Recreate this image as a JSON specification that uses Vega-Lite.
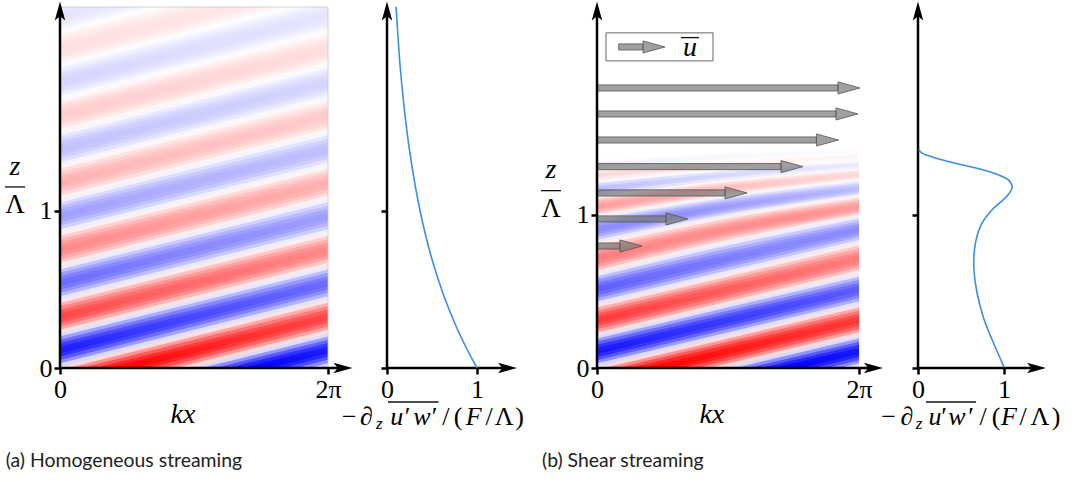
{"$schema":"https://vega.github.io/schema/vega-lite/v6.json","background":"white","padding":{"left":60,"top":7,"right":1019,"bottom":475},"autosize":{"type":"none"},"bounds":"flush","spacing":59,
"config":{"view":{"stroke":null},"axis":{"domain":false,"grid":false,"title":null,"tickColor":"#000","tickWidth":2.5,"tickSize":6,"labelFont":"Liberation Serif","labelFontSize":26,"labelColor":"#000","labelPadding":2,"labelOverlap":false,"labelFlush":false,"format":"d"},"text":{"baseline":"alphabetic","align":"center","color":"#000"}},
"datasets":{
"sa":[{"x":-0.314,"x2":6.597,"y":2.322,"y2":2.791,"v":-0.156},{"x":-0.314,"x2":6.597,"y":2.3,"y2":2.77,"v":-0.454},{"x":-0.314,"x2":6.597,"y":2.279,"y2":2.749,"v":-0.707},{"x":-0.314,"x2":6.597,"y":2.258,"y2":2.728,"v":-0.891},{"x":-0.314,"x2":6.597,"y":2.236,"y2":2.706,"v":-0.988},{"x":-0.314,"x2":6.597,"y":2.215,"y2":2.685,"v":-0.988},{"x":-0.314,"x2":6.597,"y":2.194,"y2":2.663,"v":-0.891},{"x":-0.314,"x2":6.597,"y":2.172,"y2":2.642,"v":-0.707},{"x":-0.314,"x2":6.597,"y":2.151,"y2":2.621,"v":-0.454},{"x":-0.314,"x2":6.597,"y":2.13,"y2":2.599,"v":-0.156},
{"x":-0.314,"x2":6.597,"y":2.108,"y2":2.578,"v":0.156},{"x":-0.314,"x2":6.597,"y":2.087,"y2":2.557,"v":0.454},{"x":-0.314,"x2":6.597,"y":2.066,"y2":2.535,"v":0.707},{"x":-0.314,"x2":6.597,"y":2.044,"y2":2.514,"v":0.891},{"x":-0.314,"x2":6.597,"y":2.023,"y2":2.493,"v":0.988},{"x":-0.314,"x2":6.597,"y":2.002,"y2":2.471,"v":0.988},{"x":-0.314,"x2":6.597,"y":1.98,"y2":2.45,"v":0.891},{"x":-0.314,"x2":6.597,"y":1.959,"y2":2.429,"v":0.707},{"x":-0.314,"x2":6.597,"y":1.938,"y2":2.407,"v":0.454},{"x":-0.314,"x2":6.597,"y":1.916,"y2":2.386,"v":0.156},
{"x":-0.314,"x2":6.597,"y":1.895,"y2":2.365,"v":-0.156},{"x":-0.314,"x2":6.597,"y":1.874,"y2":2.343,"v":-0.454},{"x":-0.314,"x2":6.597,"y":1.852,"y2":2.322,"v":-0.707},{"x":-0.314,"x2":6.597,"y":1.831,"y2":2.3,"v":-0.891},{"x":-0.314,"x2":6.597,"y":1.81,"y2":2.279,"v":-0.988},{"x":-0.314,"x2":6.597,"y":1.788,"y2":2.258,"v":-0.988},{"x":-0.314,"x2":6.597,"y":1.767,"y2":2.236,"v":-0.891},{"x":-0.314,"x2":6.597,"y":1.746,"y2":2.215,"v":-0.707},{"x":-0.314,"x2":6.597,"y":1.724,"y2":2.194,"v":-0.454},{"x":-0.314,"x2":6.597,"y":1.703,"y2":2.172,"v":-0.156},
{"x":-0.314,"x2":6.597,"y":1.682,"y2":2.151,"v":0.156},{"x":-0.314,"x2":6.597,"y":1.66,"y2":2.13,"v":0.454},{"x":-0.314,"x2":6.597,"y":1.639,"y2":2.108,"v":0.707},{"x":-0.314,"x2":6.597,"y":1.618,"y2":2.087,"v":0.891},{"x":-0.314,"x2":6.597,"y":1.596,"y2":2.066,"v":0.988},{"x":-0.314,"x2":6.597,"y":1.575,"y2":2.044,"v":0.988},{"x":-0.314,"x2":6.597,"y":1.554,"y2":2.023,"v":0.891},{"x":-0.314,"x2":6.597,"y":1.532,"y2":2.002,"v":0.707},{"x":-0.314,"x2":6.597,"y":1.511,"y2":1.98,"v":0.454},{"x":-0.314,"x2":6.597,"y":1.49,"y2":1.959,"v":0.156},
{"x":-0.314,"x2":6.597,"y":1.468,"y2":1.938,"v":-0.156},{"x":-0.314,"x2":6.597,"y":1.447,"y2":1.916,"v":-0.454},{"x":-0.314,"x2":6.597,"y":1.426,"y2":1.895,"v":-0.707},{"x":-0.314,"x2":6.597,"y":1.404,"y2":1.874,"v":-0.891},{"x":-0.314,"x2":6.597,"y":1.383,"y2":1.852,"v":-0.988},{"x":-0.314,"x2":6.597,"y":1.362,"y2":1.831,"v":-0.988},{"x":-0.314,"x2":6.597,"y":1.34,"y2":1.81,"v":-0.891},{"x":-0.314,"x2":6.597,"y":1.319,"y2":1.788,"v":-0.707},{"x":-0.314,"x2":6.597,"y":1.298,"y2":1.767,"v":-0.454},{"x":-0.314,"x2":6.597,"y":1.276,"y2":1.746,"v":-0.156},
{"x":-0.314,"x2":6.597,"y":1.255,"y2":1.724,"v":0.156},{"x":-0.314,"x2":6.597,"y":1.234,"y2":1.703,"v":0.454},{"x":-0.314,"x2":6.597,"y":1.212,"y2":1.682,"v":0.707},{"x":-0.314,"x2":6.597,"y":1.191,"y2":1.66,"v":0.891},{"x":-0.314,"x2":6.597,"y":1.17,"y2":1.639,"v":0.988},{"x":-0.314,"x2":6.597,"y":1.148,"y2":1.618,"v":0.988},{"x":-0.314,"x2":6.597,"y":1.127,"y2":1.596,"v":0.891},{"x":-0.314,"x2":6.597,"y":1.106,"y2":1.575,"v":0.707},{"x":-0.314,"x2":6.597,"y":1.084,"y2":1.554,"v":0.454},{"x":-0.314,"x2":6.597,"y":1.063,"y2":1.532,"v":0.156},
{"x":-0.314,"x2":6.597,"y":1.042,"y2":1.511,"v":-0.156},{"x":-0.314,"x2":6.597,"y":1.02,"y2":1.49,"v":-0.454},{"x":-0.314,"x2":6.597,"y":0.999,"y2":1.468,"v":-0.707},{"x":-0.314,"x2":6.597,"y":0.978,"y2":1.447,"v":-0.891},{"x":-0.314,"x2":6.597,"y":0.956,"y2":1.426,"v":-0.988},{"x":-0.314,"x2":6.597,"y":0.935,"y2":1.404,"v":-0.988},{"x":-0.314,"x2":6.597,"y":0.914,"y2":1.383,"v":-0.891},{"x":-0.314,"x2":6.597,"y":0.892,"y2":1.362,"v":-0.707},{"x":-0.314,"x2":6.597,"y":0.871,"y2":1.34,"v":-0.454},{"x":-0.314,"x2":6.597,"y":0.849,"y2":1.319,"v":-0.156},
{"x":-0.314,"x2":6.597,"y":0.828,"y2":1.298,"v":0.156},{"x":-0.314,"x2":6.597,"y":0.807,"y2":1.276,"v":0.454},{"x":-0.314,"x2":6.597,"y":0.785,"y2":1.255,"v":0.707},{"x":-0.314,"x2":6.597,"y":0.764,"y2":1.234,"v":0.891},{"x":-0.314,"x2":6.597,"y":0.743,"y2":1.212,"v":0.988},{"x":-0.314,"x2":6.597,"y":0.721,"y2":1.191,"v":0.988},{"x":-0.314,"x2":6.597,"y":0.7,"y2":1.17,"v":0.891},{"x":-0.314,"x2":6.597,"y":0.679,"y2":1.148,"v":0.707},{"x":-0.314,"x2":6.597,"y":0.657,"y2":1.127,"v":0.454},{"x":-0.314,"x2":6.597,"y":0.636,"y2":1.106,"v":0.156},
{"x":-0.314,"x2":6.597,"y":0.615,"y2":1.084,"v":-0.156},{"x":-0.314,"x2":6.597,"y":0.593,"y2":1.063,"v":-0.454},{"x":-0.314,"x2":6.597,"y":0.572,"y2":1.042,"v":-0.707},{"x":-0.314,"x2":6.597,"y":0.551,"y2":1.02,"v":-0.891},{"x":-0.314,"x2":6.597,"y":0.529,"y2":0.999,"v":-0.988},{"x":-0.314,"x2":6.597,"y":0.508,"y2":0.978,"v":-0.988},{"x":-0.314,"x2":6.597,"y":0.487,"y2":0.956,"v":-0.891},{"x":-0.314,"x2":6.597,"y":0.465,"y2":0.935,"v":-0.707},{"x":-0.314,"x2":6.597,"y":0.444,"y2":0.914,"v":-0.454},{"x":-0.314,"x2":6.597,"y":0.423,"y2":0.892,"v":-0.156},
{"x":-0.314,"x2":6.597,"y":0.401,"y2":0.871,"v":0.156},{"x":-0.314,"x2":6.597,"y":0.38,"y2":0.849,"v":0.454},{"x":-0.314,"x2":6.597,"y":0.359,"y2":0.828,"v":0.707},{"x":-0.314,"x2":6.597,"y":0.337,"y2":0.807,"v":0.891},{"x":-0.314,"x2":6.597,"y":0.316,"y2":0.785,"v":0.988},{"x":-0.314,"x2":6.597,"y":0.295,"y2":0.764,"v":0.988},{"x":-0.314,"x2":6.597,"y":0.273,"y2":0.743,"v":0.891},{"x":-0.314,"x2":6.597,"y":0.252,"y2":0.721,"v":0.707},{"x":-0.314,"x2":6.597,"y":0.231,"y2":0.7,"v":0.454},{"x":-0.314,"x2":6.597,"y":0.209,"y2":0.679,"v":0.156},
{"x":-0.314,"x2":6.597,"y":0.188,"y2":0.657,"v":-0.156},{"x":-0.314,"x2":6.597,"y":0.167,"y2":0.636,"v":-0.454},{"x":-0.314,"x2":6.597,"y":0.145,"y2":0.615,"v":-0.707},{"x":-0.314,"x2":6.597,"y":0.124,"y2":0.593,"v":-0.891},{"x":-0.314,"x2":6.597,"y":0.102,"y2":0.572,"v":-0.988},{"x":-0.314,"x2":6.597,"y":0.081,"y2":0.551,"v":-0.988},{"x":-0.314,"x2":6.597,"y":0.06,"y2":0.529,"v":-0.891},{"x":-0.314,"x2":6.597,"y":0.039,"y2":0.508,"v":-0.707},{"x":-0.314,"x2":6.597,"y":0.017,"y2":0.487,"v":-0.454},{"x":-0.314,"x2":6.597,"y":-0.004,"y2":0.465,"v":-0.156},
{"x":-0.314,"x2":6.597,"y":-0.026,"y2":0.444,"v":0.156},{"x":-0.314,"x2":6.597,"y":-0.047,"y2":0.423,"v":0.454},{"x":-0.314,"x2":6.597,"y":-0.068,"y2":0.401,"v":0.707},{"x":-0.314,"x2":6.597,"y":-0.09,"y2":0.38,"v":0.891},{"x":-0.314,"x2":6.597,"y":-0.111,"y2":0.359,"v":0.988},{"x":-0.314,"x2":6.597,"y":-0.132,"y2":0.337,"v":0.988},{"x":-0.314,"x2":6.597,"y":-0.154,"y2":0.316,"v":0.891},{"x":-0.314,"x2":6.597,"y":-0.175,"y2":0.295,"v":0.707},{"x":-0.314,"x2":6.597,"y":-0.196,"y2":0.273,"v":0.454},{"x":-0.314,"x2":6.597,"y":-0.218,"y2":0.252,"v":0.156},
{"x":-0.314,"x2":6.597,"y":-0.239,"y2":0.231,"v":-0.156},{"x":-0.314,"x2":6.597,"y":-0.26,"y2":0.209,"v":-0.454},{"x":-0.314,"x2":6.597,"y":-0.282,"y2":0.188,"v":-0.707},{"x":-0.314,"x2":6.597,"y":-0.303,"y2":0.167,"v":-0.891},{"x":-0.314,"x2":6.597,"y":-0.324,"y2":0.145,"v":-0.988},{"x":-0.314,"x2":6.597,"y":-0.346,"y2":0.124,"v":-0.988},{"x":-0.314,"x2":6.597,"y":-0.367,"y2":0.102,"v":-0.891},{"x":-0.314,"x2":6.597,"y":-0.388,"y2":0.081,"v":-0.707},{"x":-0.314,"x2":6.597,"y":-0.41,"y2":0.06,"v":-0.454},{"x":-0.314,"x2":6.597,"y":-0.431,"y2":0.039,"v":-0.156},{"x":-0.314,"x2":6.597,"y":-0.452,"y2":0.017,"v":0.156}],
"sb":[
{"l":89,"x":-0.314,"y":1.344,"v":-0.156},{"l":89,"x":3.142,"y":1.397,"v":-0.156},{"l":89,"x":6.597,"y":1.432,"v":-0.156},
{"l":87,"x":-0.314,"y":1.332,"v":-0.707},{"l":87,"x":3.142,"y":1.387,"v":-0.707},{"l":87,"x":6.597,"y":1.427,"v":-0.707},
{"l":85,"x":-0.314,"y":1.321,"v":-0.988},{"l":85,"x":3.142,"y":1.378,"v":-0.988},{"l":85,"x":6.597,"y":1.42,"v":-0.988},
{"l":83,"x":-0.314,"y":1.309,"v":-0.891},{"l":83,"x":3.142,"y":1.369,"v":-0.891},{"l":83,"x":6.597,"y":1.414,"v":-0.891},
{"l":81,"x":-0.314,"y":1.297,"v":-0.454},{"l":81,"x":3.142,"y":1.36,"v":-0.454},{"l":81,"x":6.597,"y":1.408,"v":-0.454},
{"l":79,"x":-0.314,"y":1.283,"v":0.156},{"l":79,"x":3.142,"y":1.35,"v":0.156},{"l":79,"x":6.597,"y":1.401,"v":0.156},
{"l":77,"x":-0.314,"y":1.269,"v":0.707},{"l":77,"x":3.142,"y":1.338,"v":0.707},{"l":77,"x":6.597,"y":1.392,"v":0.707},
{"l":75,"x":-0.314,"y":1.255,"v":0.988},{"l":75,"x":3.142,"y":1.327,"v":0.988},{"l":75,"x":6.597,"y":1.383,"v":0.988},
{"l":73,"x":-0.314,"y":1.24,"v":0.891},{"l":73,"x":3.142,"y":1.315,"v":0.891},{"l":73,"x":6.597,"y":1.374,"v":0.891},
{"l":71,"x":-0.314,"y":1.226,"v":0.454},{"l":71,"x":3.142,"y":1.303,"v":0.454},{"l":71,"x":6.597,"y":1.365,"v":0.454},
{"l":69,"x":-0.314,"y":1.206,"v":-0.156},{"l":69,"x":3.142,"y":1.291,"v":-0.156},{"l":69,"x":6.597,"y":1.355,"v":-0.156},
{"l":67,"x":-0.314,"y":1.186,"v":-0.707},{"l":67,"x":3.142,"y":1.276,"v":-0.707},{"l":67,"x":6.597,"y":1.344,"v":-0.707},
{"l":65,"x":-0.314,"y":1.165,"v":-0.988},{"l":65,"x":3.142,"y":1.262,"v":-0.988},{"l":65,"x":6.597,"y":1.332,"v":-0.988},
{"l":63,"x":-0.314,"y":1.144,"v":-0.891},{"l":63,"x":3.142,"y":1.247,"v":-0.891},{"l":63,"x":6.597,"y":1.321,"v":-0.891},
{"l":61,"x":-0.314,"y":1.123,"v":-0.454},{"l":61,"x":3.142,"y":1.233,"v":-0.454},{"l":61,"x":6.597,"y":1.309,"v":-0.454},
{"l":59,"x":-0.314,"y":1.099,"v":0.156},{"l":59,"x":3.142,"y":1.217,"v":0.156},{"l":59,"x":6.597,"y":1.297,"v":0.156},
{"l":58,"x":-0.314,"y":1.086,"v":0.454},{"l":58,"x":3.142,"y":1.206,"v":0.454},{"l":58,"x":6.597,"y":1.291,"v":0.454},
{"l":57,"x":-0.314,"y":1.073,"v":0.707},{"l":57,"x":3.142,"y":1.196,"v":0.707},{"l":57,"x":6.597,"y":1.283,"v":0.707},
{"l":56,"x":-0.314,"y":1.059,"v":0.891},{"l":56,"x":3.142,"y":1.186,"v":0.891},{"l":56,"x":6.597,"y":1.276,"v":0.891},
{"l":55,"x":-0.314,"y":1.046,"v":0.988},{"l":55,"x":3.142,"y":1.175,"v":0.988},{"l":55,"x":6.597,"y":1.269,"v":0.988},
{"l":54,"x":-0.314,"y":1.033,"v":0.988},{"l":54,"x":3.142,"y":1.165,"v":0.988},{"l":54,"x":6.597,"y":1.262,"v":0.988},
{"l":53,"x":-0.314,"y":1.02,"v":0.891},{"l":53,"x":3.142,"y":1.154,"v":0.891},{"l":53,"x":6.597,"y":1.255,"v":0.891},
{"l":52,"x":-0.314,"y":1.007,"v":0.707},{"l":52,"x":3.142,"y":1.144,"v":0.707},{"l":52,"x":6.597,"y":1.247,"v":0.707},
{"l":51,"x":-0.314,"y":0.994,"v":0.454},{"l":51,"x":3.142,"y":1.134,"v":0.454},{"l":51,"x":6.597,"y":1.24,"v":0.454},
{"l":50,"x":-0.314,"y":0.979,"v":0.156},{"l":50,"x":3.142,"y":1.123,"v":0.156},{"l":50,"x":6.597,"y":1.233,"v":0.156},
{"l":49,"x":-0.314,"y":0.962,"v":-0.156},{"l":49,"x":3.142,"y":1.112,"v":-0.156},{"l":49,"x":6.597,"y":1.226,"v":-0.156},
{"l":48,"x":-0.314,"y":0.945,"v":-0.454},{"l":48,"x":3.142,"y":1.099,"v":-0.454},{"l":48,"x":6.597,"y":1.217,"v":-0.454},
{"l":47,"x":-0.314,"y":0.928,"v":-0.707},{"l":47,"x":3.142,"y":1.086,"v":-0.707},{"l":47,"x":6.597,"y":1.206,"v":-0.707},
{"l":46,"x":-0.314,"y":0.911,"v":-0.891},{"l":46,"x":3.142,"y":1.073,"v":-0.891},{"l":46,"x":6.597,"y":1.196,"v":-0.891},
{"l":45,"x":-0.314,"y":0.894,"v":-0.988},{"l":45,"x":3.142,"y":1.059,"v":-0.988},{"l":45,"x":6.597,"y":1.186,"v":-0.988},
{"l":44,"x":-0.314,"y":0.877,"v":-0.988},{"l":44,"x":3.142,"y":1.046,"v":-0.988},{"l":44,"x":6.597,"y":1.175,"v":-0.988},
{"l":43,"x":-0.314,"y":0.86,"v":-0.891},{"l":43,"x":3.142,"y":1.033,"v":-0.891},{"l":43,"x":6.597,"y":1.165,"v":-0.891},
{"l":42,"x":-0.314,"y":0.843,"v":-0.707},{"l":42,"x":3.142,"y":1.02,"v":-0.707},{"l":42,"x":6.597,"y":1.154,"v":-0.707},
{"l":41,"x":-0.314,"y":0.826,"v":-0.454},{"l":41,"x":3.142,"y":1.007,"v":-0.454},{"l":41,"x":6.597,"y":1.144,"v":-0.454},
{"l":40,"x":-0.314,"y":0.807,"v":-0.156},{"l":40,"x":3.142,"y":0.994,"v":-0.156},{"l":40,"x":6.597,"y":1.134,"v":-0.156},
{"l":39,"x":-0.314,"y":0.787,"v":0.156},{"l":39,"x":3.142,"y":0.979,"v":0.156},{"l":39,"x":6.597,"y":1.123,"v":0.156},
{"l":38,"x":-0.314,"y":0.766,"v":0.454},{"l":38,"x":3.142,"y":0.962,"v":0.454},{"l":38,"x":6.597,"y":1.112,"v":0.454},
{"l":37,"x":-0.314,"y":0.746,"v":0.707},{"l":37,"x":3.142,"y":0.945,"v":0.707},{"l":37,"x":6.597,"y":1.099,"v":0.707},
{"l":36,"x":-0.314,"y":0.726,"v":0.891},{"l":36,"x":3.142,"y":0.928,"v":0.891},{"l":36,"x":6.597,"y":1.086,"v":0.891},
{"l":35,"x":-0.314,"y":0.706,"v":0.988},{"l":35,"x":3.142,"y":0.911,"v":0.988},{"l":35,"x":6.597,"y":1.073,"v":0.988},
{"l":34,"x":-0.314,"y":0.685,"v":0.988},{"l":34,"x":3.142,"y":0.894,"v":0.988},{"l":34,"x":6.597,"y":1.059,"v":0.988},
{"l":33,"x":-0.314,"y":0.665,"v":0.891},{"l":33,"x":3.142,"y":0.877,"v":0.891},{"l":33,"x":6.597,"y":1.046,"v":0.891},
{"l":32,"x":-0.314,"y":0.645,"v":0.707},{"l":32,"x":3.142,"y":0.86,"v":0.707},{"l":32,"x":6.597,"y":1.033,"v":0.707},
{"l":31,"x":-0.314,"y":0.625,"v":0.454},{"l":31,"x":3.142,"y":0.843,"v":0.454},{"l":31,"x":6.597,"y":1.02,"v":0.454},
{"l":30,"x":-0.314,"y":0.604,"v":0.156},{"l":30,"x":3.142,"y":0.826,"v":0.156},{"l":30,"x":6.597,"y":1.007,"v":0.156},
{"l":29,"x":-0.314,"y":0.584,"v":-0.156},{"l":29,"x":3.142,"y":0.807,"v":-0.156},{"l":29,"x":6.597,"y":0.994,"v":-0.156},
{"l":28,"x":-0.314,"y":0.564,"v":-0.454},{"l":28,"x":3.142,"y":0.787,"v":-0.454},{"l":28,"x":6.597,"y":0.979,"v":-0.454},
{"l":27,"x":-0.314,"y":0.544,"v":-0.707},{"l":27,"x":3.142,"y":0.766,"v":-0.707},{"l":27,"x":6.597,"y":0.962,"v":-0.707},
{"l":26,"x":-0.314,"y":0.523,"v":-0.891},{"l":26,"x":3.142,"y":0.746,"v":-0.891},{"l":26,"x":6.597,"y":0.945,"v":-0.891},
{"l":25,"x":-0.314,"y":0.503,"v":-0.988},{"l":25,"x":3.142,"y":0.726,"v":-0.988},{"l":25,"x":6.597,"y":0.928,"v":-0.988},
{"l":24,"x":-0.314,"y":0.483,"v":-0.988},{"l":24,"x":3.142,"y":0.706,"v":-0.988},{"l":24,"x":6.597,"y":0.911,"v":-0.988},
{"l":23,"x":-0.314,"y":0.463,"v":-0.891},{"l":23,"x":3.142,"y":0.685,"v":-0.891},{"l":23,"x":6.597,"y":0.894,"v":-0.891},
{"l":22,"x":-0.314,"y":0.442,"v":-0.707},{"l":22,"x":3.142,"y":0.665,"v":-0.707},{"l":22,"x":6.597,"y":0.877,"v":-0.707},
{"l":21,"x":-0.314,"y":0.422,"v":-0.454},{"l":21,"x":3.142,"y":0.645,"v":-0.454},{"l":21,"x":6.597,"y":0.86,"v":-0.454},
{"l":20,"x":-0.314,"y":0.402,"v":-0.156},{"l":20,"x":3.142,"y":0.625,"v":-0.156},{"l":20,"x":6.597,"y":0.843,"v":-0.156},
{"l":19,"x":-0.314,"y":0.382,"v":0.156},{"l":19,"x":3.142,"y":0.604,"v":0.156},{"l":19,"x":6.597,"y":0.826,"v":0.156},
{"l":18,"x":-0.314,"y":0.361,"v":0.454},{"l":18,"x":3.142,"y":0.584,"v":0.454},{"l":18,"x":6.597,"y":0.807,"v":0.454},
{"l":17,"x":-0.314,"y":0.341,"v":0.707},{"l":17,"x":3.142,"y":0.564,"v":0.707},{"l":17,"x":6.597,"y":0.787,"v":0.707},
{"l":16,"x":-0.314,"y":0.321,"v":0.891},{"l":16,"x":3.142,"y":0.544,"v":0.891},{"l":16,"x":6.597,"y":0.766,"v":0.891},
{"l":15,"x":-0.314,"y":0.301,"v":0.988},{"l":15,"x":3.142,"y":0.523,"v":0.988},{"l":15,"x":6.597,"y":0.746,"v":0.988},
{"l":14,"x":-0.314,"y":0.28,"v":0.988},{"l":14,"x":3.142,"y":0.503,"v":0.988},{"l":14,"x":6.597,"y":0.726,"v":0.988},
{"l":13,"x":-0.314,"y":0.26,"v":0.891},{"l":13,"x":3.142,"y":0.483,"v":0.891},{"l":13,"x":6.597,"y":0.706,"v":0.891},
{"l":12,"x":-0.314,"y":0.24,"v":0.707},{"l":12,"x":3.142,"y":0.463,"v":0.707},{"l":12,"x":6.597,"y":0.685,"v":0.707},
{"l":11,"x":-0.314,"y":0.22,"v":0.454},{"l":11,"x":3.142,"y":0.442,"v":0.454},{"l":11,"x":6.597,"y":0.665,"v":0.454},
{"l":10,"x":-0.314,"y":0.199,"v":0.156},{"l":10,"x":3.142,"y":0.422,"v":0.156},{"l":10,"x":6.597,"y":0.645,"v":0.156},
{"l":9,"x":-0.314,"y":0.179,"v":-0.156},{"l":9,"x":3.142,"y":0.402,"v":-0.156},{"l":9,"x":6.597,"y":0.625,"v":-0.156},
{"l":8,"x":-0.314,"y":0.159,"v":-0.454},{"l":8,"x":3.142,"y":0.382,"v":-0.454},{"l":8,"x":6.597,"y":0.604,"v":-0.454},
{"l":7,"x":-0.314,"y":0.139,"v":-0.707},{"l":7,"x":3.142,"y":0.361,"v":-0.707},{"l":7,"x":6.597,"y":0.584,"v":-0.707},
{"l":6,"x":-0.314,"y":0.118,"v":-0.891},{"l":6,"x":3.142,"y":0.341,"v":-0.891},{"l":6,"x":6.597,"y":0.564,"v":-0.891},
{"l":5,"x":-0.314,"y":0.098,"v":-0.988},{"l":5,"x":3.142,"y":0.321,"v":-0.988},{"l":5,"x":6.597,"y":0.544,"v":-0.988},
{"l":4,"x":-0.314,"y":0.078,"v":-0.988},{"l":4,"x":3.142,"y":0.301,"v":-0.988},{"l":4,"x":6.597,"y":0.523,"v":-0.988},
{"l":3,"x":-0.314,"y":0.058,"v":-0.891},{"l":3,"x":3.142,"y":0.28,"v":-0.891},{"l":3,"x":6.597,"y":0.503,"v":-0.891},
{"l":2,"x":-0.314,"y":0.037,"v":-0.707},{"l":2,"x":3.142,"y":0.26,"v":-0.707},{"l":2,"x":6.597,"y":0.483,"v":-0.707},
{"l":1,"x":-0.314,"y":0.017,"v":-0.454},{"l":1,"x":3.142,"y":0.24,"v":-0.454},{"l":1,"x":6.597,"y":0.463,"v":-0.454},
{"l":0,"x":-0.314,"y":-0.003,"v":-0.156},{"l":0,"x":3.142,"y":0.22,"v":-0.156},{"l":0,"x":6.597,"y":0.442,"v":-0.156},
{"l":-1,"x":-0.314,"y":-0.024,"v":0.156},{"l":-1,"x":3.142,"y":0.199,"v":0.156},{"l":-1,"x":6.597,"y":0.422,"v":0.156},
{"l":-2,"x":-0.314,"y":-0.044,"v":0.454},{"l":-2,"x":3.142,"y":0.179,"v":0.454},{"l":-2,"x":6.597,"y":0.402,"v":0.454},
{"l":-3,"x":-0.314,"y":-0.064,"v":0.707},{"l":-3,"x":3.142,"y":0.159,"v":0.707},{"l":-3,"x":6.597,"y":0.382,"v":0.707},
{"l":-4,"x":-0.314,"y":-0.084,"v":0.891},{"l":-4,"x":3.142,"y":0.139,"v":0.891},{"l":-4,"x":6.597,"y":0.361,"v":0.891},
{"l":-5,"x":-0.314,"y":-0.105,"v":0.988},{"l":-5,"x":3.142,"y":0.118,"v":0.988},{"l":-5,"x":6.597,"y":0.341,"v":0.988},
{"l":-6,"x":-0.314,"y":-0.125,"v":0.988},{"l":-6,"x":3.142,"y":0.098,"v":0.988},{"l":-6,"x":6.597,"y":0.321,"v":0.988},
{"l":-7,"x":-0.314,"y":-0.145,"v":0.891},{"l":-7,"x":3.142,"y":0.078,"v":0.891},{"l":-7,"x":6.597,"y":0.301,"v":0.891},
{"l":-8,"x":-0.314,"y":-0.165,"v":0.707},{"l":-8,"x":3.142,"y":0.058,"v":0.707},{"l":-8,"x":6.597,"y":0.28,"v":0.707},
{"l":-9,"x":-0.314,"y":-0.185,"v":0.454},{"l":-9,"x":3.142,"y":0.037,"v":0.454},{"l":-9,"x":6.597,"y":0.26,"v":0.454},
{"l":-10,"x":-0.314,"y":-0.206,"v":0.156},{"l":-10,"x":3.142,"y":0.017,"v":0.156},{"l":-10,"x":6.597,"y":0.24,"v":0.156},
{"l":-11,"x":-0.314,"y":-0.226,"v":-0.156},{"l":-11,"x":3.142,"y":-0.003,"v":-0.156},{"l":-11,"x":6.597,"y":0.22,"v":-0.156},
{"l":-12,"x":-0.314,"y":-0.246,"v":-0.454},{"l":-12,"x":3.142,"y":-0.024,"v":-0.454},{"l":-12,"x":6.597,"y":0.199,"v":-0.454},
{"l":-13,"x":-0.314,"y":-0.266,"v":-0.707},{"l":-13,"x":3.142,"y":-0.044,"v":-0.707},{"l":-13,"x":6.597,"y":0.179,"v":-0.707},
{"l":-14,"x":-0.314,"y":-0.287,"v":-0.891},{"l":-14,"x":3.142,"y":-0.064,"v":-0.891},{"l":-14,"x":6.597,"y":0.159,"v":-0.891},
{"l":-15,"x":-0.314,"y":-0.307,"v":-0.988},{"l":-15,"x":3.142,"y":-0.084,"v":-0.988},{"l":-15,"x":6.597,"y":0.139,"v":-0.988},
{"l":-16,"x":-0.314,"y":-0.327,"v":-0.988},{"l":-16,"x":3.142,"y":-0.105,"v":-0.988},{"l":-16,"x":6.597,"y":0.118,"v":-0.988},
{"l":-17,"x":-0.314,"y":-0.347,"v":-0.891},{"l":-17,"x":3.142,"y":-0.125,"v":-0.891},{"l":-17,"x":6.597,"y":0.098,"v":-0.891},
{"l":-18,"x":-0.314,"y":-0.368,"v":-0.707},{"l":-18,"x":3.142,"y":-0.145,"v":-0.707},{"l":-18,"x":6.597,"y":0.078,"v":-0.707},
{"l":-19,"x":-0.314,"y":-0.388,"v":-0.454},{"l":-19,"x":3.142,"y":-0.165,"v":-0.454},{"l":-19,"x":6.597,"y":0.058,"v":-0.454},
{"l":-20,"x":-0.314,"y":-0.408,"v":-0.156},{"l":-20,"x":3.142,"y":-0.185,"v":-0.156},{"l":-20,"x":6.597,"y":0.037,"v":-0.156},
{"l":-21,"x":-0.314,"y":-0.428,"v":0.156},{"l":-21,"x":3.142,"y":-0.206,"v":0.156},{"l":-21,"x":6.597,"y":0.017,"v":0.156}]
},
"hconcat":[
{"width":268,"height":361,
"encoding":{"x":{"field":"x","type":"quantitative","scale":{"domain":[0,6.283],"nice":false,"zero":false},"axis":{"values":[0,6.283],"labelExpr":"datum.value==0?'0':'2π'"}},"y":{"field":"y","type":"quantitative","scale":{"domain":[0,2.299],"nice":false,"zero":false},"axis":{"values":[0,1]}}},
"layer":[
{"data":{"name":"sa"},"mark":{"type":"rule","clip":true,"strokeWidth":4},"encoding":{"x2":{"field":"x2"},"y2":{"field":"y2"},"color":{"field":"v","type":"quantitative","scale":{"domain":[-1,0,1],"range":["#0000ff","#ffffff","#ff0000"],"interpolate":"rgb"},"legend":null}}},
{"data":{"values":[{"x":0,"x2":6.283,"y":0,"y2":2.299}]},"mark":{"type":"rect","stroke":"#c8c8d0","strokeWidth":0.8,"fill":{"gradient":"linear","x1":0,"y1":1,"x2":0,"y2":0,"stops":[{"offset":0,"color":"rgba(255,255,255,0)"},{"offset":0.1,"color":"rgba(255,255,255,0.205)"},{"offset":0.2,"color":"rgba(255,255,255,0.369)"},{"offset":0.3,"color":"rgba(255,255,255,0.498)"},{"offset":0.4,"color":"rgba(255,255,255,0.601)"},{"offset":0.5,"color":"rgba(255,255,255,0.683)"},{"offset":0.6,"color":"rgba(255,255,255,0.748)"},{"offset":0.7,"color":"rgba(255,255,255,0.8)"},{"offset":0.8,"color":"rgba(255,255,255,0.841)"},{"offset":0.9,"color":"rgba(255,255,255,0.874)"},{"offset":1,"color":"rgba(255,255,255,0.9)"}]}},"encoding":{"x2":{"field":"x2"},"y2":{"field":"y2"}}},
{"data":{"values":[{"x":0,"x2":6.635,"y":0,"y2":0},{"x":0,"x2":0,"y":0,"y2":2.274}]},"mark":{"type":"rule","strokeWidth":2.5,"color":"#000"},"encoding":{"x2":{"field":"x2"},"y2":{"field":"y2"}}},
{"data":{"values":[{"x":-1.289,"x2":-0.82,"y":1.153,"y2":1.153}]},"mark":{"type":"rule","strokeWidth":1.3,"color":"#111"},"encoding":{"x2":{"field":"x2"},"y2":{"field":"y2"}}},
{"data":{"values":[{"x":6.635,"y":0}]},"mark":{"type":"point","filled":true,"fill":"#000","opacity":1,"size":361,"shape":"M1,0 L-1,-0.55 L-0.55,0 L-1,0.55 Z"}},
{"data":{"values":[{"x":0,"y":2.274}]},"mark":{"type":"point","filled":true,"fill":"#000","opacity":1,"size":361,"shape":"M0,-1 L-0.55,1 L0,0.55 L0.55,1 Z"}},
{"data":{"values":[{"x":2.884,"y":-0.35,"t":"kx"},{"x":-1.055,"y":1.229,"t":"z"}]},"mark":{"type":"text","font":"Liberation Serif","fontStyle":"italic","fontSize":28},"encoding":{"text":{"field":"t"}}},
{"data":{"values":[{"x":-1.055,"y":0.987,"t":"Λ"}]},"mark":{"type":"text","font":"Liberation Serif","fontSize":27},"encoding":{"text":{"field":"t"}}},
{"data":{"values":[{"x":-1.273,"y":-0.63,"t":"(a) Homogeneous streaming"}]},"mark":{"type":"text","font":"Lato","fontSize":19.4,"align":"left","color":"#222"},"encoding":{"text":{"field":"t"}}}
]},
{"width":151,"height":361,
"encoding":{"x":{"field":"x","type":"quantitative","scale":{"domain":[0,1.678],"nice":false,"zero":false},"axis":{"values":[0,1]}},"y":{"field":"y","type":"quantitative","scale":{"domain":[0,2.299],"nice":false,"zero":false},"axis":{"values":[0,1],"labels":false}}},
"layer":[
{"data":{"values":[{"x":0,"x2":1.339,"y":0,"y2":0},{"x":0,"x2":0,"y":0,"y2":2.274}]},"mark":{"type":"rule","strokeWidth":2.5,"color":"#000"},"encoding":{"x2":{"field":"x2"},"y2":{"field":"y2"}}},
{"data":{"values":[{"x":1,"y":0},{"x":0.78,"y":0.25},{"x":0.607,"y":0.5},{"x":0.472,"y":0.75},{"x":0.368,"y":1},{"x":0.287,"y":1.25},{"x":0.223,"y":1.5},{"x":0.174,"y":1.75},{"x":0.135,"y":2},{"x":0.1,"y":2.3}]},"mark":{"type":"line","color":"#3b8fe3","strokeWidth":1.6,"interpolate":"monotone"},"encoding":{"order":{"field":"y"}}},
{"data":{"values":[{"x":0.011,"x2":0.573,"y":-0.2166,"y2":-0.2166}]},"mark":{"type":"rule","strokeWidth":1.3,"color":"#111"},"encoding":{"x2":{"field":"x2"},"y2":{"field":"y2"}}},
{"data":{"values":[{"x":1.339,"y":0}]},"mark":{"type":"point","filled":true,"fill":"#000","opacity":1,"size":361,"shape":"M1,0 L-1,-0.55 L-0.55,0 L-1,0.55 Z"}},
{"data":{"values":[{"x":0,"y":2.274}]},"mark":{"type":"point","filled":true,"fill":"#000","opacity":1,"size":361,"shape":"M0,-1 L-0.55,1 L0,0.55 L0.55,1 Z"}},
{"data":{"values":[{"x":-0.229,"y":-0.363,"t":"∂"},{"x":0.109,"y":-0.363,"t":"u"},{"x":0.389,"y":-0.363,"t":"w"},{"x":0.963,"y":-0.363,"t":"F"}]},"mark":{"type":"text","font":"Liberation Serif","fontStyle":"italic","fontSize":26},"encoding":{"text":{"field":"t"}}},
{"data":{"values":[{"x":-0.419,"y":-0.363,"t":"−"},{"x":0.229,"y":-0.363,"t":"′"},{"x":0.528,"y":-0.363,"t":"′"},{"x":0.654,"y":-0.363,"t":"/"},{"x":0.791,"y":-0.363,"t":"("},{"x":1.136,"y":-0.363,"t":"/"},{"x":1.301,"y":-0.363,"t":"Λ"},{"x":1.473,"y":-0.363,"t":")"}]},"mark":{"type":"text","font":"Liberation Serif","fontSize":26},"encoding":{"text":{"field":"t"}}},
{"data":{"values":[{"x":-0.086,"y":-0.389,"t":"z"}]},"mark":{"type":"text","font":"Liberation Serif","fontStyle":"italic","fontSize":17},"encoding":{"text":{"field":"t"}}}
]},
{"width":262,"height":361,
"encoding":{"x":{"field":"x","type":"quantitative","scale":{"domain":[0,6.283],"nice":false,"zero":false},"axis":{"values":[0,6.283],"labelExpr":"datum.value==0?'0':'2π'"}},"y":{"field":"y","type":"quantitative","scale":{"domain":[0,2.359],"nice":false,"zero":false},"axis":{"values":[0,1]}}},
"layer":[
{"data":{"name":"sb"},"mark":{"type":"line","clip":true,"strokeWidth":4,"interpolate":"monotone"},"encoding":{"detail":{"field":"l"},"color":{"field":"v","type":"quantitative","scale":{"domain":[-1,0,1],"range":["#0000ff","#ffffff","#ff0000"],"interpolate":"rgb"},"legend":null}}},
{"data":{"values":[{"x":0,"x2":6.283,"y":0,"y2":1.667}]},"mark":{"type":"rect","fill":{"gradient":"linear","x1":0,"y1":1,"x2":0,"y2":0,"stops":[{"offset":0,"color":"rgba(255,255,255,0)"},{"offset":0.12,"color":"rgba(255,255,255,0.15)"},{"offset":0.24,"color":"rgba(255,255,255,0.28)"},{"offset":0.36,"color":"rgba(255,255,255,0.42)"},{"offset":0.48,"color":"rgba(255,255,255,0.53)"},{"offset":0.6,"color":"rgba(255,255,255,0.56)"},{"offset":0.678,"color":"rgba(255,255,255,0.68)"},{"offset":0.732,"color":"rgba(255,255,255,0.8)"},{"offset":0.78,"color":"rgba(255,255,255,0.88)"},{"offset":0.81,"color":"rgba(255,255,255,0.95)"},{"offset":0.852,"color":"rgba(255,255,255,0.985)"},{"offset":0.9,"color":"rgba(255,255,255,1)"},{"offset":1,"color":"rgba(255,255,255,1)"}]}},"encoding":{"x2":{"field":"x2"},"y2":{"field":"y2"}}},
{"data":{"values":[{"x":0.216,"x2":2.782,"y":2.007,"y2":2.19}]},"mark":{"type":"rect","fill":"#fff","stroke":"#666","strokeWidth":1},"encoding":{"x2":{"field":"x2"},"y2":{"field":"y2"}}},
{"data":{"values":[{"x":0,"x2":5.78,"y":1.81,"y2":1.85},{"x":0,"x2":5.73,"y":1.64,"y2":1.68},{"x":0,"x2":5.26,"y":1.47,"y2":1.51},{"x":0,"x2":4.41,"y":1.296,"y2":1.336},{"x":0,"x2":3.07,"y":1.124,"y2":1.164},{"x":0,"x2":1.65,"y":0.954,"y2":0.994},{"x":0,"x2":0.55,"y":0.777,"y2":0.817},{"x":0.52,"x2":1.103,"y":2.078,"y2":2.118}]},"mark":{"type":"rect","fill":"#777","fillOpacity":0.7,"stroke":"#555","strokeWidth":0.8},"encoding":{"x2":{"field":"x2"},"y2":{"field":"y2"}}},
{"data":{"values":[{"x":6.043,"y":1.83},{"x":5.995,"y":1.66},{"x":5.527,"y":1.49},{"x":4.676,"y":1.316},{"x":3.333,"y":1.144},{"x":1.918,"y":0.974},{"x":0.815,"y":0.797},{"x":1.367,"y":2.098}]},"mark":{"type":"point","filled":true,"fill":"#777","fillOpacity":0.7,"stroke":"#555","strokeWidth":0.8,"opacity":1,"size":484,"shape":"M-1,-0.55 L1,0 L-1,0.55 Z"}},
{"data":{"values":[{"x":0,"x2":6.63,"y":0,"y2":0},{"x":0,"x2":0,"y":0,"y2":2.333}]},"mark":{"type":"rule","strokeWidth":2.5,"color":"#000"},"encoding":{"x2":{"field":"x2"},"y2":{"field":"y2"}}},
{"data":{"values":[{"x":-1.343,"x2":-0.863,"y":1.159,"y2":1.159},{"x":2.014,"x2":2.446,"y":2.159,"y2":2.159}]},"mark":{"type":"rule","strokeWidth":1.3,"color":"#111"},"encoding":{"x2":{"field":"x2"},"y2":{"field":"y2"}}},
{"data":{"values":[{"x":6.63,"y":0}]},"mark":{"type":"point","filled":true,"fill":"#000","opacity":1,"size":361,"shape":"M1,0 L-1,-0.55 L-0.55,0 L-1,0.55 Z"}},
{"data":{"values":[{"x":0,"y":2.333}]},"mark":{"type":"point","filled":true,"fill":"#000","opacity":1,"size":361,"shape":"M0,-1 L-0.55,1 L0,0.55 L0.55,1 Z"}},
{"data":{"values":[{"x":2.758,"y":-0.359,"t":"kx"},{"x":-1.103,"y":1.242,"t":"z"},{"x":2.23,"y":2.04,"t":"u"}]},"mark":{"type":"text","font":"Liberation Serif","fontStyle":"italic","fontSize":28},"encoding":{"text":{"field":"t"}}},
{"data":{"values":[{"x":-1.103,"y":0.987,"t":"Λ"}]},"mark":{"type":"text","font":"Liberation Serif","fontSize":27},"encoding":{"text":{"field":"t"}}},
{"data":{"values":[{"x":-1.319,"y":-0.646,"t":"(b) Shear streaming"}]},"mark":{"type":"text","font":"Lato","fontSize":19.4,"align":"left","color":"#222"},"encoding":{"text":{"field":"t"}}}
]},
{"width":86,"height":361,
"encoding":{"x":{"field":"x","type":"quantitative","scale":{"domain":[0,1],"nice":false,"zero":false},"axis":{"values":[0,1]}},"y":{"field":"y","type":"quantitative","scale":{"domain":[0,2.359],"nice":false,"zero":false},"axis":{"values":[0,1],"labels":false}}},
"layer":[
{"data":{"values":[{"x":0,"x2":1.378,"y":0,"y2":0},{"x":0,"x2":0,"y":0,"y2":2.333}]},"mark":{"type":"rule","strokeWidth":2.5,"color":"#000"},"encoding":{"x2":{"field":"x2"},"y2":{"field":"y2"}}},
{"data":{"values":[{"o":1,"x":1,"y":0.007},{"o":2,"x":0.878,"y":0.163},{"o":3,"x":0.763,"y":0.327},{"o":4,"x":0.687,"y":0.49},{"o":5,"x":0.649,"y":0.665},{"o":6,"x":0.668,"y":0.817},{"o":7,"x":0.744,"y":0.946},{"o":8,"x":0.878,"y":1.044},{"o":9,"x":1.03,"y":1.12},{"o":10,"x":1.095,"y":1.181},{"o":11,"x":1.05,"y":1.229},{"o":12,"x":0.916,"y":1.266},{"o":13,"x":0.687,"y":1.305},{"o":14,"x":0.382,"y":1.344},{"o":15,"x":0.134,"y":1.385},{"o":16,"x":0.038,"y":1.407},{"o":17,"x":0.008,"y":1.431}]},"mark":{"type":"line","color":"#3b8fe3","strokeWidth":1.6,"interpolate":"catmull-rom"},"encoding":{"order":{"field":"o"}}},
{"data":{"values":[{"x":0.093,"x2":0.674,"y":-0.2222,"y2":-0.2222}]},"mark":{"type":"rule","strokeWidth":1.3,"color":"#111"},"encoding":{"x2":{"field":"x2"},"y2":{"field":"y2"}}},
{"data":{"values":[{"x":1.378,"y":0}]},"mark":{"type":"point","filled":true,"fill":"#000","opacity":1,"size":361,"shape":"M1,0 L-1,-0.55 L-0.55,0 L-1,0.55 Z"}},
{"data":{"values":[{"x":0,"y":2.333}]},"mark":{"type":"point","filled":true,"fill":"#000","opacity":1,"size":361,"shape":"M0,-1 L-0.55,1 L0,0.55 L0.55,1 Z"}},
{"data":{"values":[{"x":-0.128,"y":-0.3725,"t":"∂"},{"x":0.198,"y":-0.3725,"t":"u"},{"x":0.453,"y":-0.3725,"t":"w"},{"x":1.058,"y":-0.3725,"t":"F"}]},"mark":{"type":"text","font":"Liberation Serif","fontStyle":"italic","fontSize":26},"encoding":{"text":{"field":"t"}}},
{"data":{"values":[{"x":-0.343,"y":-0.3725,"t":"−"},{"x":0.302,"y":-0.3725,"t":"′"},{"x":0.616,"y":-0.3725,"t":"′"},{"x":0.756,"y":-0.3725,"t":"/"},{"x":0.907,"y":-0.3725,"t":"("},{"x":1.221,"y":-0.3725,"t":"/"},{"x":1.419,"y":-0.3725,"t":"Λ"},{"x":1.605,"y":-0.3725,"t":")"}]},"mark":{"type":"text","font":"Liberation Serif","fontSize":26},"encoding":{"text":{"field":"t"}}},
{"data":{"values":[{"x":0.012,"y":-0.399,"t":"z"}]},"mark":{"type":"text","font":"Liberation Serif","fontStyle":"italic","fontSize":17},"encoding":{"text":{"field":"t"}}}
]}
]}
